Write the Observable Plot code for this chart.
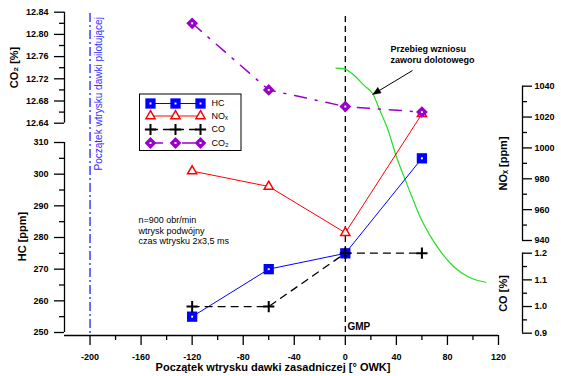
<!DOCTYPE html>
<html><head><meta charset="utf-8">
<script src="https://cdn.jsdelivr.net/npm/d3@7"></script>
<script src="https://cdn.jsdelivr.net/npm/@observablehq/plot@0.6"></script>
<style>body{margin:0;background:#fff}</style>
</head><body><div id="chart"></div>
<script>
// ---------- data ----------
const timing = [-120, -60, 0, 60];           // początek wtrysku dawki zasadniczej [° OWK]
const hcPpm  = [255, 270, 275, 305];
const noxPpm = [985, 975, 945, 1022];
const coPct  = [1.0, 1.0, 1.2, 1.2];
const co2Pct = [12.82, 12.70, 12.67, 12.66];
const seriesNames = ["HC", "NOₓ", "CO", "CO₂"];

// intake valve lift curve (% of maximum lift) vs crank angle
const valveCrank   = [-7.3, -0.8, 7.0, 14.9, 21.5, 26.6, 33.2, 39.7, 46.2, 52.8, 59.3, 67.1, 75.0, 85.4, 95.9, 103.7, 110.2];
const valveLiftPct = [100, 99.7, 96.6, 91.9, 88.1, 81.0, 71.7, 59.4, 49.2, 39.2, 29.9, 21.4, 14.4, 7.4, 3.1, 1.2, 0.4];

const pilotStart = -200;
const tdc = 0;

const xTicks    = [-200, -160, -120, -80, -40, 0, 40, 80, 120];
const xMinor    = [-180, -140, -100, -60, -20, 20, 60, 100];
const hcTicks   = [250, 260, 270, 280, 290, 300, 310];
const hcMinor   = [255, 265, 275, 285, 295, 305];
const co2Ticks  = [12.64, 12.68, 12.72, 12.76, 12.80, 12.84];
const co2Minor  = [12.66, 12.70, 12.74, 12.78, 12.82];
const noxTicks  = [940, 960, 980, 1000, 1020, 1040];
const noxMinor  = [950, 970, 990, 1010, 1030];
const coTicks   = [0.9, 1.0, 1.1, 1.2];
const coMinor   = [0.95, 1.05, 1.15];

// ---------- layout ----------
const W = 561, H = 376;
const X = d3.scaleLinear([-220, 120], [64, 498]);
const Y = d3.scaleLinear([250, 310], [332, 142]);
const co2ToHC  = d3.scaleLinear([12.64, 12.84], [Y.invert(122.7), Y.invert(11.7)]);
const noxToHC  = d3.scaleLinear([940, 1040], [Y.invert(240), Y.invert(85.7)]);
const coToHC   = d3.scaleLinear([0.9, 1.2], [Y.invert(332.7), Y.invert(252.7)]);
const liftToHC = d3.scaleLinear([0, 100], [Y.invert(282.6), Y.invert(67.7)]);
const px = X.invert, py = Y.invert;
const font = "Liberation Sans, Arial, Helvetica, sans-serif";

const styles = [
  {color: "#0000ff", symbol: "square",   r: 5.8, fill: "#0000ff", stroke: "none",    sw: 0,   lw: 1,   dash: null,       inner: true},
  {color: "#ff0000", symbol: "triangle", r: 3.4, fill: "white",   stroke: "#ff0000", sw: 1.5, lw: 1,   dash: null,       inner: false},
  {color: "#000000", symbol: "plus",     r: 3.7, fill: "none",    stroke: "#000000", sw: 2,   lw: 1.3, dash: "7,6",      inner: false},
  {color: "#9900cc", symbol: "diamond2", r: 5.3, fill: "#9900cc", stroke: "none",    sw: 0,   lw: 1.5, dash: "12,9,2,9", inner: true}
];

const seriesData = [
  timing.map((t, i) => ({x: t, y: hcPpm[i]})),
  timing.map((t, i) => ({x: t, y: noxToHC(noxPpm[i])})),
  timing.map((t, i) => ({x: t, y: coToHC(coPct[i])})),
  timing.map((t, i) => ({x: t, y: co2ToHC(co2Pct[i])}))
];
const valveData = valveCrank.map((c, i) => ({x: c, y: liftToHC(valveLiftPct[i])}));

function lineMark(data, s) {
  return Plot.line(data, {x: "x", y: "y", stroke: s.color, strokeWidth: s.lw, strokeDasharray: s.dash || undefined});
}
function dotMarks(data, s) {
  const m = [Plot.dot(data, {x: "x", y: "y", symbol: s.symbol, r: s.r, fill: s.fill, stroke: s.stroke, strokeWidth: s.sw})];
  if (s.inner) m.push(Plot.dot(data, {x: "x", y: "y", symbol: "square", r: 1.1, fill: "white"}));
  return m;
}

// axis helper (vertical axes)
function vAxis(ticks, minor, toHC, fmt, side) {
  const ax = side === "left" ? -220 : px(522);
  const dir = side === "left" ? -1 : 1;
  const x0 = X(ax);
  const lo = d3.min(ticks), hi = d3.max(ticks);
  return [
    Plot.ruleX([ax], {y1: toHC(lo), y2: toHC(hi), stroke: "#000", strokeWidth: 1.3}),
    Plot.ruleY(ticks, {y: d => toHC(d), x1: ax, x2: px(x0 + dir * 10), stroke: "#000", strokeWidth: 1.3}),
    Plot.ruleY(minor, {y: d => toHC(d), x1: ax, x2: px(x0 + dir * 5), stroke: "#000", strokeWidth: 1.3}),
    Plot.text(ticks, {x: px(side === "left" ? 48 : 534), y: d => toHC(d), text: fmt,
      textAnchor: side === "left" ? "end" : "start", fontWeight: "bold", fontSize: 9, fill: "#000"})
  ];
}

const marks = [];
// reference vertical lines
marks.push(Plot.ruleX([pilotStart], {y1: py(13), y2: py(335), stroke: "#2020ff", strokeWidth: 1.3, strokeDasharray: "9,3,2,3"}));
marks.push(Plot.ruleX([tdc], {y1: py(16), y2: py(335), stroke: "#000", strokeWidth: 1.3, strokeDasharray: "6,4"}));

// x axis
marks.push(Plot.ruleY([py(335)], {x1: -220, x2: 120, stroke: "#000", strokeWidth: 1.3}));
marks.push(Plot.ruleX(xTicks, {x: d => d, y1: py(335), y2: py(345), stroke: "#000", strokeWidth: 1.3}));
marks.push(Plot.ruleX(xMinor, {x: d => d, y1: py(335), y2: py(340), stroke: "#000", strokeWidth: 1.3}));
marks.push(Plot.text(xTicks, {x: d => d, y: py(357), text: d => String(d), fontWeight: "bold", fontSize: 9, fill: "#000"}));

// y axes
marks.push(...vAxis(hcTicks, hcMinor, d => d, d => String(d), "left"));
marks.push(...vAxis(co2Ticks, co2Minor, co2ToHC, d => d.toFixed(2), "left"));
marks.push(...vAxis(noxTicks, noxMinor, noxToHC, d => String(d), "right"));
marks.push(...vAxis(coTicks, coMinor, coToHC, d => d.toFixed(1), "right"));

// axis titles
const titles = [
  {t: "CO₂ [%]",  x: 14,  y: 67,  rot: -90},
  {t: "HC [ppm]", x: 22,  y: 236, rot: -90},
  {t: "NOₓ [ppm]", x: 503, y: 163, rot: -90},
  {t: "CO [%]",   x: 503, y: 293, rot: -90}
];
titles.forEach(d => marks.push(Plot.text([d], {x: px(d.x), y: py(d.y), text: d => d.t, rotate: d.rot, fontWeight: "bold", fontSize: 11, fill: "#000"})));
marks.push(Plot.text(["Początek wtrysku dawki zasadniczej [° OWK]"], {x: px(272.5), y: py(367), text: d => d, fontWeight: "bold", fontSize: 11, fill: "#000"}));

// valve lift curve
marks.push(Plot.line(valveData, {x: "x", y: "y", stroke: "#22e022", strokeWidth: 1.2, curve: "monotone-x"}));

// series
seriesData.forEach((d, i) => marks.push(lineMark(d, styles[i])));
seriesData.forEach((d, i) => marks.push(...dotMarks(d, styles[i])));

// annotations
marks.push(Plot.text(["Początek wtrysku dawki pilotującej"], {x: px(98), y: py(170), text: d => d, rotate: -90, textAnchor: "start", fontSize: 10, fill: "#3030ff"}));
marks.push(Plot.text(["GMP"], {x: px(347), y: py(326), text: d => d, textAnchor: "start", fontWeight: "bold", fontSize: 10, fill: "#000"}));
marks.push(Plot.text(["n=900 obr/min", "wtrysk podwójny", "czas wtrysku 2x3,5 ms"], {x: px(138), y: (d, i) => py(220 + i * 10.5), text: d => d, textAnchor: "start", fontSize: 9, fill: "#000"}));
marks.push(Plot.text(["Przebieg wzniosu", "zaworu dolotowego"], {x: px(390), y: (d, i) => py(48.5 + i * 11), text: d => d, textAnchor: "start", fontWeight: "bold", fontSize: 9, fill: "#000"}));
marks.push(Plot.link([0], {x1: px(412), y1: py(70), x2: px(378), y2: py(90.5), stroke: "#000", strokeWidth: 1}));
// filled arrow head (tip, two base corners)
const headPx = [[372, 94], [380.6, 92.4], [377.2, 86.8]];
marks.push(Plot.line(headPx.map(([a, b]) => ({x: px(a), y: py(b)})), {x: "x", y: "y", fill: "#000", stroke: "#000", strokeWidth: 0.5}));

// legend
const legendRows = [103, 115.5, 129, 142.5];
marks.push(Plot.rect([0], {x1: px(139.5), x2: px(241), y1: py(94), y2: py(150.5), fill: "white", stroke: "#000", strokeWidth: 1}));
seriesNames.forEach((name, i) => {
  const pts = [150, 175, 200].map(v => ({x: px(v), y: py(legendRows[i])}));
  marks.push(lineMark(pts, styles[i]));
  marks.push(...dotMarks(pts, styles[i]));
  marks.push(Plot.text([name], {x: px(211), y: py(legendRows[i]), text: d => d, textAnchor: "start", fontSize: 9, fill: "#000"}));
});

const chart = Plot.plot({
  width: W, height: H,
  marginLeft: 0, marginRight: 0, marginTop: 0, marginBottom: 0,
  style: {fontFamily: font, background: "white", overflow: "visible"},
  x: {domain: [-220, 120], range: [64, 498], axis: null},
  y: {domain: [250, 310], range: [332, 142], axis: null},
  marks
});
document.getElementById("chart").appendChild(chart);
</script>
</body></html>
